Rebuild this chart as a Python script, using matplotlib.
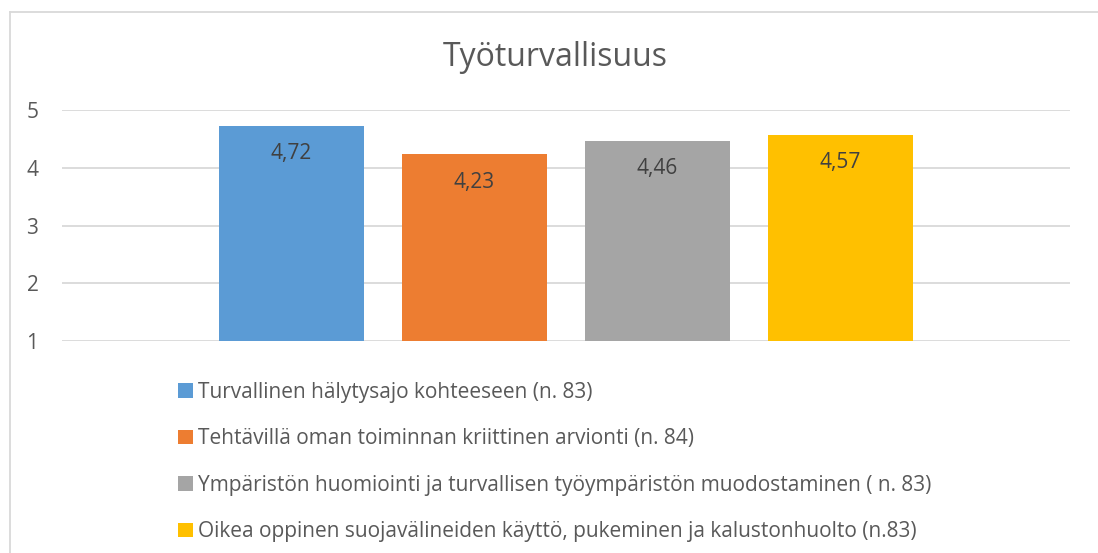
import matplotlib.pyplot as plt
from matplotlib.lines import Line2D

plt.rcParams['font.family'] = ['Open Sans', 'DejaVu Sans']

title = 'Työturvallisuus'
series = ['Turvallinen hälytysajo kohteeseen (n. 83)',
          'Tehtävillä oman toiminnan kriittinen arvionti (n. 84)',
          'Ympäristön huomiointi ja turvallisen työympäristön muodostaminen ( n. 83)',
          'Oikea oppinen suojavälineiden käyttö, pukeminen ja kalustonhuolto (n.83)']
values = [4.72, 4.23, 4.46, 4.57]
labels = ['4,72', '4,23', '4,46', '4,57']
colors = ['#5b9bd5', '#ed7d31', '#a5a5a5', '#ffc000']
yticks = [1, 2, 3, 4, 5]

W, H = 1098, 553
fig = plt.figure(figsize=(W / 100, H / 100), dpi=100)
ax = fig.add_axes([62 / W, 1 - 341 / H, (1070 - 62) / W, (341 - 110) / H])

x = range(len(values))
bars = ax.bar(x, [v - 1 for v in values], bottom=1, width=0.792, color=colors,
              label=series, zorder=2)
for b, lab in zip(bars, labels):
    ax.annotate(lab, (b.get_x() + b.get_width() / 2, b.get_y() + b.get_height()),
                xytext=(0, -20), textcoords='offset points', ha='center', va='center',
                fontsize=15, color='#404040')

ax.set_xlim(-1.254, 4.254)
ax.set_ylim(1, 5)
ax.set_yticks(yticks)
ax.yaxis.grid(True, color='#d9d9d9', linewidth=1.3, zorder=0)
ax.set_xticks([])
ax.tick_params(axis='y', length=0, pad=17, labelsize=15, labelcolor='#595959')
for s in ax.spines.values():
    s.set_visible(False)

fig.text(555 / W, 1 - 58 / H, title, ha='center', va='center', fontsize=23, color='#595959')

leg = fig.legend(handles=list(bars), labels=series, loc='upper left',
                 bbox_to_anchor=(178 / W, 1 - 382 / H), frameon=False, fontsize=15,
                 handlelength=0.7, handleheight=0.7, handletextpad=0.25,
                 labelspacing=1.22, borderaxespad=0, borderpad=0)
for t in leg.get_texts():
    t.set_color('#595959')

# chart frame
fig.add_artist(Line2D([10 / W, 1], [1 - 12 / H, 1 - 12 / H], color='#d9d9d9', linewidth=1.3))
fig.add_artist(Line2D([10 / W, 10 / W], [0, 1 - 12 / H], color='#d9d9d9', linewidth=1.3))

fig.savefig('out.png', dpi=100)
